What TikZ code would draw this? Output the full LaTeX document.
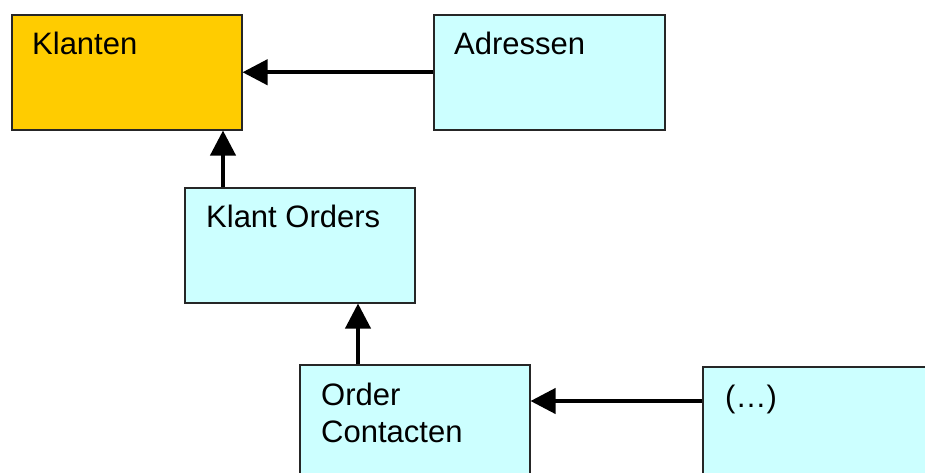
\documentclass[tikz,border=0pt]{standalone}
\usepackage{fontspec}
\setmainfont{Liberation Sans}
\usetikzlibrary{arrows.meta}
\definecolor{klantfill}{HTML}{FFCC00}
\definecolor{tablefill}{HTML}{CCFFFF}
\begin{document}
\begin{tikzpicture}[x=1pt,y=-1pt,
  tablebox/.style={draw=black!85, line width=1.5pt, fill=tablefill, rectangle,
    inner sep=0pt, anchor=north west, minimum width=230pt, minimum height=115pt},
  mainbox/.style={tablebox, fill=klantfill},
  caption/.style={anchor=base west, inner sep=0pt,
    font=\fontsize{31}{37}\selectfont, align=left},
  link/.style={line width=4pt, -{Triangle[length=25pt,width=25pt]}}]
  % page frame; boxes running off the edge are cut
  \clip (0,0) rectangle (925,472);

  % tables
  \node[mainbox] (klanten) at (11,14) {};
  \node[tablebox, minimum width=231pt] (adressen) at (433,14) {};
  \node[tablebox] (klantorders) at (184,187) {};
  \node[tablebox] (ordercontacten) at (299,364) {};
  \node[tablebox] (overige) at (702,366) {};

  % table names (a two-line name sits on the baseline of its last line)
  \node[caption] (klantentxt) at (32,54) {Klanten};
  \node[caption] (adressentxt) at (454,54) {Adressen};
  \node[caption] (klantorderstxt) at (206,227) {Klant Orders};
  \node[caption] (ordercontactentxt) at (321,442) {Order\\Contacten};
  \node[caption] (overigetxt) at (725,407) {(…)};

  % references
  \draw[link] (adressen.west) -- (klanten.east);
  \draw[link] ([xshift=39pt]klantorders.north west)
    -- ([xshift=39pt]klantorders.north west |- klanten.south);
  \draw[link] ([xshift=59pt]ordercontacten.north west)
    -- ([xshift=59pt]ordercontacten.north west |- klantorders.south);
  \draw[link] ([yshift=-35pt]overige.north west)
    -- ([yshift=-35pt]overige.north west -| ordercontacten.east);
\end{tikzpicture}
\end{document}
